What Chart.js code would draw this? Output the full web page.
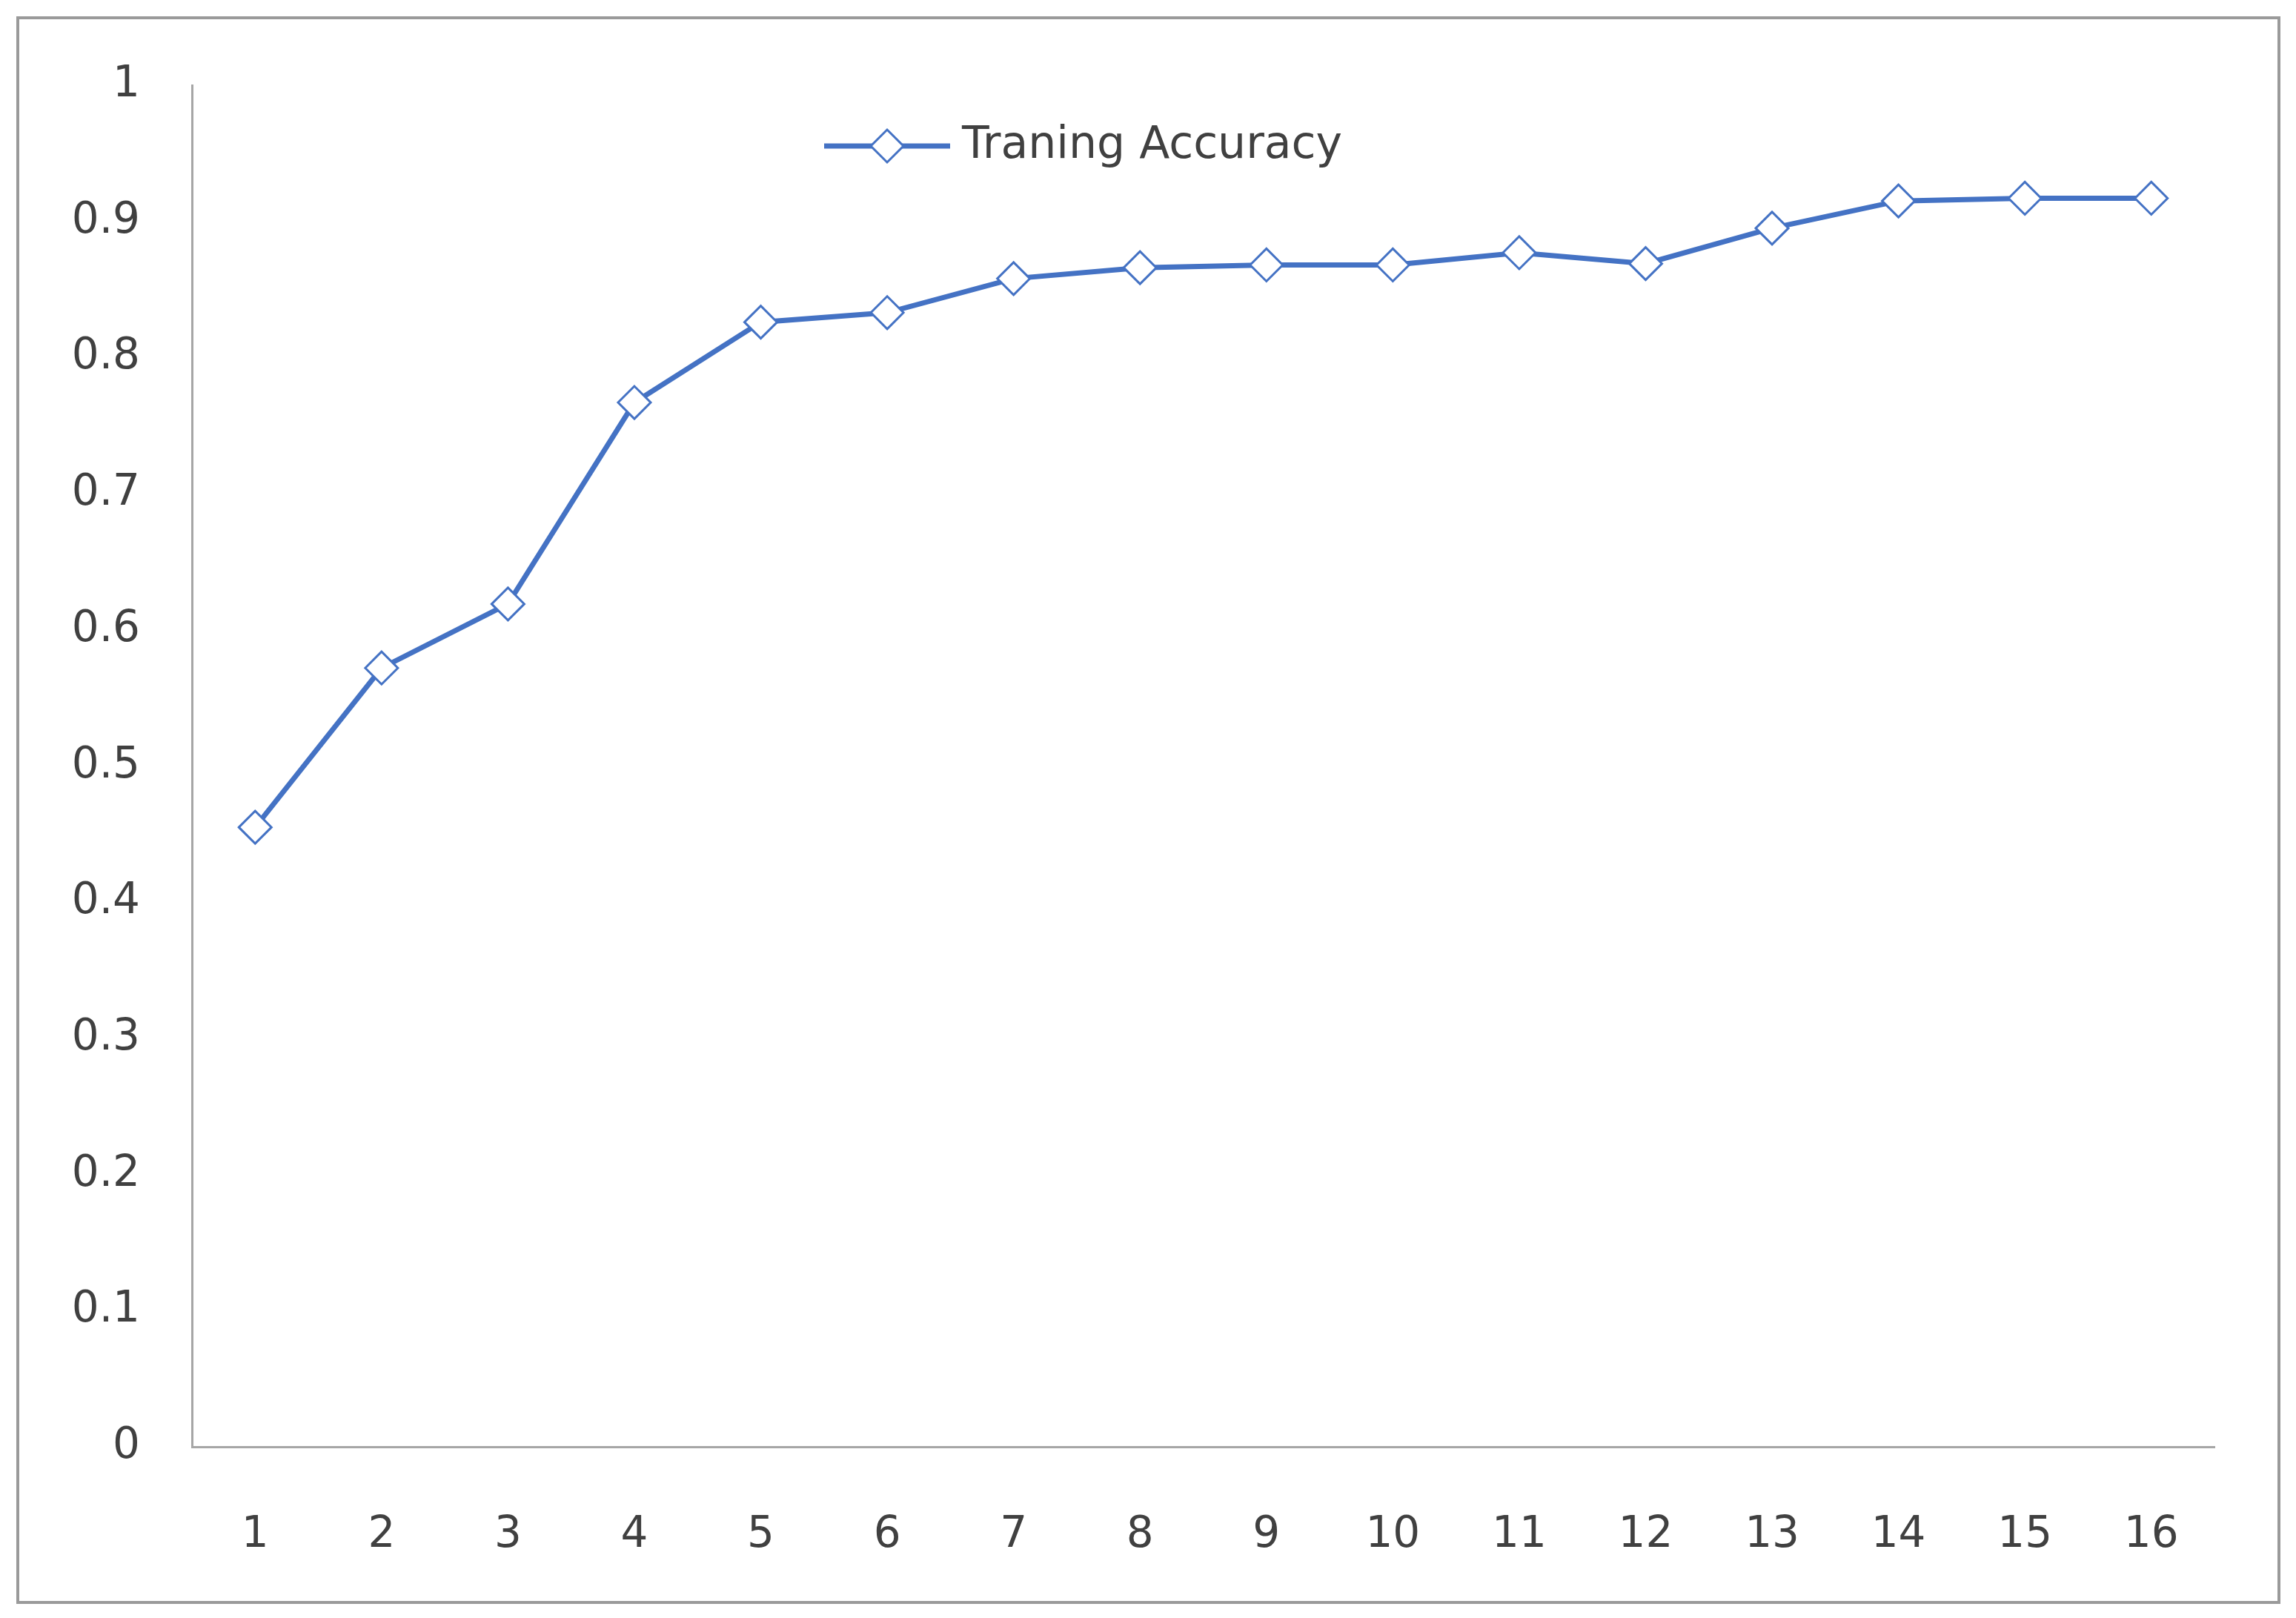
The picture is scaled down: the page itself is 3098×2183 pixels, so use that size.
<!DOCTYPE html>
<html>
<head>
<meta charset="utf-8">
<script src="https://cdn.jsdelivr.net/npm/chart.js@4/dist/chart.umd.min.js"></script>
<style>
  html, body { margin: 0; padding: 0; background: #fff; }
  #wrap { width: 3098px; height: 2183px; position: relative; }
</style>
</head>
<body>
<div id="wrap"><canvas id="accChart" width="3098" height="2183"></canvas></div>
<script>
const epochs = ['1','2','3','4','5','6','7','8','9','10','11','12','13','14','15','16'];
const trainingAccuracy = [0.455, 0.572, 0.619, 0.767, 0.826, 0.833, 0.858, 0.866, 0.868, 0.868, 0.877, 0.869, 0.895, 0.915, 0.917, 0.917];
const yTicks = [0, 0.1, 0.2, 0.3, 0.4, 0.5, 0.6, 0.7, 0.8, 0.9, 1];

const lineColor = '#4472C4';
const fontFamily = '"DejaVu Sans", sans-serif';

// frame around the whole picture + legend inside plot area
const framePlugin = {
    id: 'frame',
    beforeDraw(chart) {
        const ctx = chart.ctx;
        ctx.save();
        ctx.fillStyle = '#fff';
        ctx.fillRect(0, 0, chart.width, chart.height);
        ctx.strokeStyle = '#9a9a9a';
        ctx.lineWidth = 4;
        ctx.strokeRect(24, 24, 3051, 2138);
        ctx.restore();
    },
    afterDraw(chart) {
        const ctx = chart.ctx;
        ctx.save();
        const y = 197;
        ctx.strokeStyle = lineColor;
        ctx.lineWidth = 7;
        ctx.beginPath();
        ctx.moveTo(1112, y);
        ctx.lineTo(1282, y);
        ctx.stroke();
        ctx.fillStyle = '#fff';
        ctx.lineWidth = 3;
        ctx.beginPath();
        ctx.moveTo(1197, y - 22);
        ctx.lineTo(1219, y);
        ctx.lineTo(1197, y + 22);
        ctx.lineTo(1175, y);
        ctx.closePath();
        ctx.fill();
        ctx.stroke();
        ctx.fillStyle = '#404040';
        ctx.font = '60px ' + fontFamily;
        ctx.textBaseline = 'middle';
        ctx.fillText('Traning Accuracy', 1298, y);
        ctx.restore();
    }
};

new Chart(document.getElementById('accChart'), {
    type: 'line',
    data: {
        labels: epochs,
        datasets: [{
            label: 'Traning Accuracy',
            data: trainingAccuracy,
            borderColor: lineColor,
            borderWidth: 7,
            pointStyle: 'rectRot',
            pointRadius: 22,
            pointBorderWidth: 3,
            pointBackgroundColor: '#fff',
            pointBorderColor: lineColor,
            tension: 0
        }]
    },
    options: {
        responsive: false,
        devicePixelRatio: 1,
        animation: false,
        layout: { padding: { left: 60, right: 110, top: 115, bottom: 51 } },
        plugins: {
            legend: { display: false },
            tooltip: { enabled: false }
        },
        scales: {
            x: {
                offset: true,
                grid: { display: false, drawTicks: false },
                border: { color: '#a6a6a6', width: 3 },
                ticks: { color: '#404040', font: { size: 58, family: fontFamily }, padding: 85 },
                afterFit: (scale) => { scale.height = 180; }
            },
            y: {
                min: 0,
                max: 1,
                afterBuildTicks: (scale) => { scale.ticks = yTicks.map(v => ({ value: v })); },
                grid: { display: false, drawTicks: false },
                border: { color: '#a6a6a6', width: 3 },
                ticks: {
                    color: '#404040',
                    font: { size: 58, family: fontFamily },
                    padding: 70,
                    callback: (value) => String(value)
                },
                afterFit: (scale) => { scale.width = 199; }
            }
        }
    },
    plugins: [framePlugin]
});
</script>
</body>
</html>
